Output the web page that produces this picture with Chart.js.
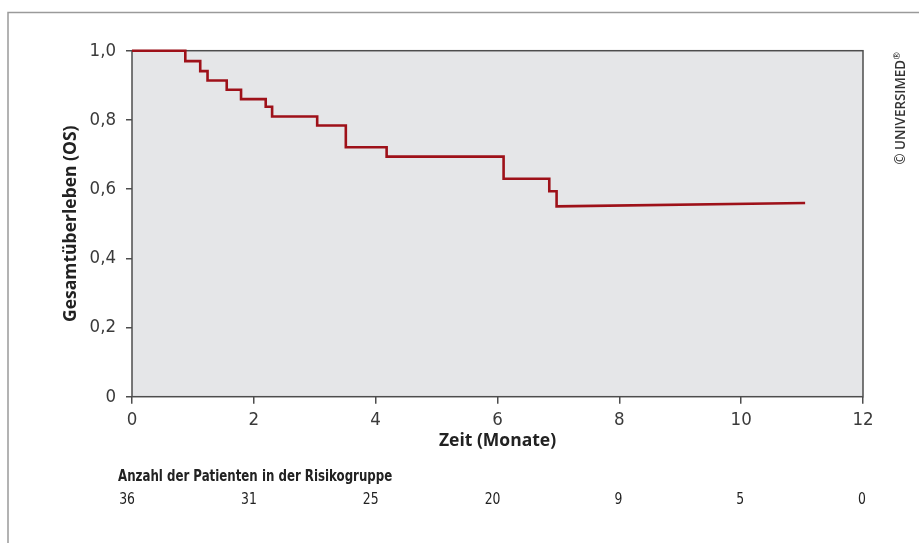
<!DOCTYPE html>
<html>
<head>
<meta charset="utf-8">
<script src="https://cdn.jsdelivr.net/npm/chart.js@4"></script>
<style>
    html, body { margin: 0; padding: 0; background: #fff; }
    #wrap { width: 919px; height: 543px; position: relative; }
</style>
</head>
<body>
<div id="wrap"><canvas id="km-chart"></canvas></div>
<script>
// Kaplan-Meier curve (each drop = two points at the same time)
const timeMonths = [0, 0.875, 0.875, 1.12, 1.12, 1.24, 1.24, 1.555, 1.555, 1.79, 1.79,
    2.195, 2.195, 2.30, 2.30, 3.04, 3.04, 3.51, 3.51, 4.18, 4.18, 6.10, 6.10,
    6.85, 6.85, 6.97, 6.97, 11.05];
const survival = [1.0, 1.0, 0.970, 0.970, 0.941, 0.941, 0.914, 0.914, 0.887, 0.887, 0.860,
    0.860, 0.838, 0.838, 0.810, 0.810, 0.784, 0.784, 0.721, 0.721, 0.694, 0.694, 0.630,
    0.630, 0.594, 0.594, 0.550, 0.560];

const xTicks = [0, 2, 4, 6, 8, 10, 12];
const yTicks = [0, 0.2, 0.4, 0.6, 0.8, 1.0];

// patients at risk
const riskTimes = [0, 2, 4, 6, 8, 10, 12];
const riskCounts = [36, 31, 25, 20, 9, 5, 0];

const AXIS_COLOR = '#4d4d4d';
const LIGHT_FONT = '"DejaVu Sans Condensed", "Liberation Sans", sans-serif';
const BOLD_FONT = '"Open Sans", "Liberation Sans", sans-serif';

const fmtY = v => v === 0 ? '0' : v.toFixed(1).replace('.', ',');

// narrow text: squeeze horizontally around the anchor
function narrowText(ctx, text, x, y, squeeze) {
    ctx.save();
    ctx.translate(x, y);
    ctx.scale(squeeze, 1);
    ctx.fillText(text, 0, 0);
    ctx.restore();
}

const decorPlugin = {
    id: 'decor',
    beforeDraw(chart) {
        const { ctx, chartArea: a } = chart;
        ctx.save();
        ctx.fillStyle = '#e5e6e8';
        ctx.fillRect(a.left, a.top, a.right - a.left, a.bottom - a.top);

        // outer frame (top + left)
        ctx.strokeStyle = '#9a9a9a';
        ctx.lineWidth = 1.5;
        ctx.beginPath();
        ctx.moveTo(8, chart.height);
        ctx.lineTo(8, 12.5);
        ctx.lineTo(chart.width, 12.5);
        ctx.stroke();
        ctx.restore();
    },
    beforeDatasetsDraw(chart) {
        const { ctx, chartArea: a } = chart;
        ctx.save();
        ctx.strokeStyle = AXIS_COLOR;
        ctx.lineWidth = 1.5;
        ctx.strokeRect(a.left, a.top, a.right - a.left, a.bottom - a.top);
        ctx.restore();
    },
    afterDraw(chart) {
        const { ctx } = chart;
        const xs = chart.scales.x;
        ctx.save();
        ctx.fillStyle = '#222';
        ctx.textBaseline = 'middle';
        ctx.font = 'bold 15px ' + LIGHT_FONT;
        ctx.textAlign = 'left';
        narrowText(ctx, 'Anzahl der Patienten in der Risikogruppe', 118, 477, 0.875);

        ctx.font = '15px ' + LIGHT_FONT;
        ctx.textAlign = 'right';
        riskCounts.forEach((n, i) => {
            narrowText(ctx, String(n), xs.getPixelForValue(riskTimes[i]) + 3, 500, 0.92);
        });

        // copyright, rotated
        ctx.translate(901, 108.5);
        ctx.rotate(-Math.PI / 2);
        ctx.fillStyle = '#333';
        ctx.textAlign = 'left';
        ctx.font = '600 13.4px ' + BOLD_FONT;
        const main = '\u00A9 UNIVERSIMED';
        const w1 = ctx.measureText(main).width;
        ctx.font = '600 9px ' + BOLD_FONT;
        const w2 = ctx.measureText('\u00AE').width;
        const x0 = -(w1 + w2) / 2;
        ctx.font = '600 13.4px ' + BOLD_FONT;
        ctx.fillText(main, x0, 0);
        ctx.font = '600 9px ' + BOLD_FONT;
        ctx.fillText('\u00AE', x0 + w1 + 0.5, -4);
        ctx.restore();
    }
};

new Chart(document.getElementById('km-chart'), {
    type: 'line',
    data: {
        datasets: [{
            label: 'OS',
            data: timeMonths.map((t, i) => ({ x: t, y: survival[i] })),
            borderColor: '#9e1119',
            borderWidth: 2.6,
            pointRadius: 0,
            tension: 0,
            fill: false,
            clip: false
        }]
    },
    options: {
        responsive: true,
        maintainAspectRatio: false,
        animation: false,
        layout: { padding: { left: 0, right: 56, top: 50.7, bottom: 0 } },
        plugins: { legend: { display: false }, tooltip: { enabled: false } },
        scales: {
            x: {
                type: 'linear',
                min: 0, max: 12,
                afterBuildTicks: axis => { axis.ticks = xTicks.map(v => ({ value: v })); },
                afterFit: axis => { axis.height = 146.3; },
                border: { display: false },
                grid: { drawOnChartArea: false, drawTicks: true, tickLength: 7, color: AXIS_COLOR, lineWidth: 1.5 },
                ticks: { color: '#3a3a3a', padding: 5, font: { family: LIGHT_FONT, size: 18.5 }, maxRotation: 0 },
                title: {
                    display: true, text: 'Zeit (Monate)', color: '#222',
                    font: { family: BOLD_FONT, size: 17.5, weight: 'bold', lineHeight: 1.2 },
                    padding: { top: 0, bottom: 91.5 }
                }
            },
            y: {
                type: 'linear',
                min: 0, max: 1,
                afterBuildTicks: axis => { axis.ticks = yTicks.map(v => ({ value: v })); },
                afterFit: axis => { axis.width = 132; },
                border: { display: false },
                grid: { drawOnChartArea: false, drawTicks: true, tickLength: 6, color: AXIS_COLOR, lineWidth: 1.5 },
                ticks: { color: '#3a3a3a', padding: 10, font: { family: LIGHT_FONT, size: 18.5 }, callback: v => fmtY(v) },
                title: {
                    display: true, text: 'Gesamtüberleben (OS)', color: '#222',
                    font: { family: BOLD_FONT, size: 17.5, weight: 'bold', lineHeight: 1.2 },
                    padding: { top: 60.5, bottom: 0 }
                }
            }
        }
    },
    plugins: [decorPlugin]
});
</script>
</body>
</html>
